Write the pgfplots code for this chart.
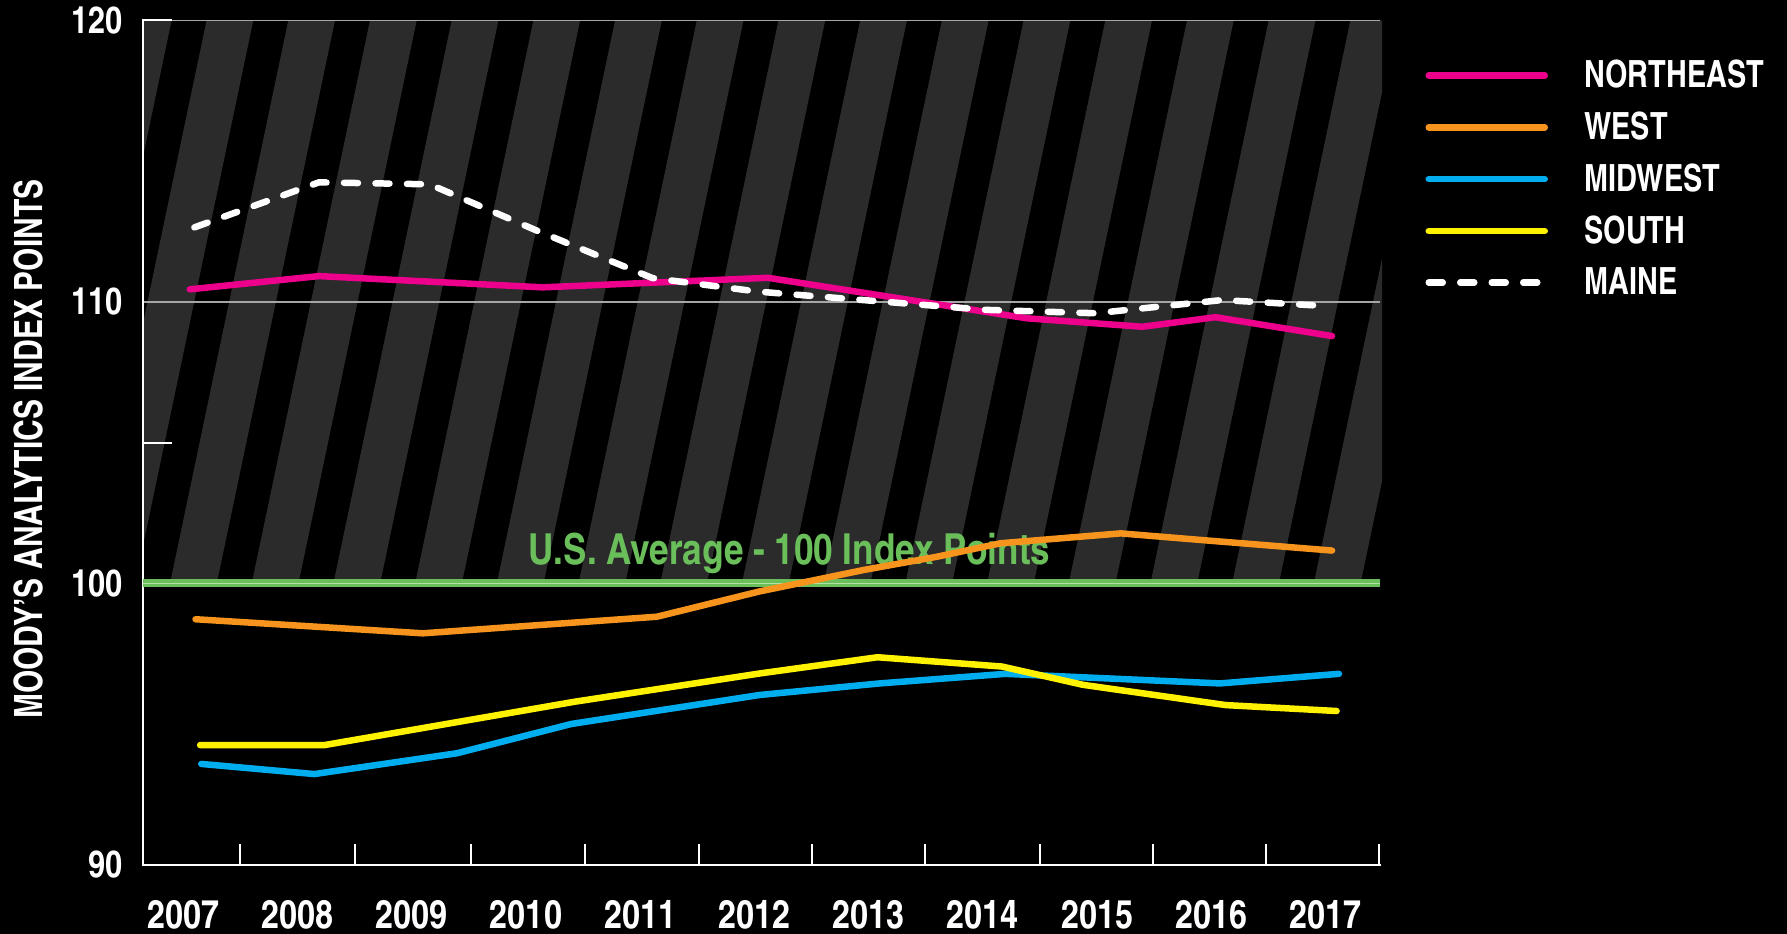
\documentclass[border=0pt]{standalone}
\usepackage{pgfplots}
\pgfplotsset{compat=1.18}
\usepackage{fontspec}
\setmainfont{texgyreheroscn-bold}[Extension=.otf]
\newfontfamily\cnx{texgyreheroscn-bold}[Extension=.otf, FakeStretch=0.94]
\definecolor{ne}{HTML}{EC008C}
\definecolor{we}{HTML}{F7941D}
\definecolor{mw}{HTML}{00AEEF}
\definecolor{so}{HTML}{FFF200}
\definecolor{stripe}{HTML}{2B2B2B}
\definecolor{avg}{HTML}{6ABF5B}
\definecolor{avglight}{HTML}{B4E2A4}
\definecolor{gridc}{HTML}{A6A6A6}
\begin{document}
\begin{tikzpicture}
\path[use as bounding box, fill=black] (-57.2pt,-27.6pt) rectangle (657.6pt,346pt);
\begin{scope}
\clip (0pt,112.6pt) rectangle (495.6pt,337.8pt);
\foreach \k in {0,...,18}{
  \fill[stripe] ({(\k-2)*32.68pt+10.8pt},112.6pt) -- ++(18.7pt,0pt) -- ++(47.3pt,225.2pt) -- ++(-18.7pt,0pt) -- cycle;
}
\end{scope}
\begin{axis}[
  at={(0pt,0pt)}, anchor=south west,
  scale only axis, width=494.8pt, height=337.8pt,
  xmin=-0.41, xmax=10.42, ymin=90, ymax=120,
  axis lines*=left,
  axis line style={white, line width=0.8pt, line cap=rect},
  tick align=inside,
  /pgf/number format/assume math mode=true,
  major tick style={draw=none},
  minor tick style={draw=white, line width=0.8pt},
  xtick={0,1,2,3,4,5,6,7,8,9,10},
  xticklabels={2007,2008,2009,2010,2011,2012,2013,2014,2015,2016,2017},
  minor xtick={0.44,1.45,2.46,3.46,4.46,5.45,6.44,7.44,8.43,9.42,10.41},
  minor tick length=8.4pt,
  major tick length=11.6pt,
  xticklabel style={anchor=north, inner sep=0pt, yshift=-13.9pt, xshift=-2.6pt, text=white, font=\fontsize{15.8}{18}\selectfont},
  ytick={90,100,110,120},
  yticklabels={90,100,110,120},
  yticklabel style={anchor=east, inner sep=0pt, xshift=-8pt, text=white, font=\fontsize{15}{18}\selectfont},
  extra y ticks={105,120},
  extra y tick labels={},
  extra y tick style={grid=none, major tick style={draw=white, line width=0.8pt}},
  ymajorgrids, grid style={gridc, line width=0.5pt},
  ylabel={MOODY’S ANALYTICS INDEX POINTS},
  ylabel style={at={(axis description cs:-0.0922,0.4926)}, anchor=center, text=white, inner sep=0pt, font=\cnx\fontsize{15.6}{18}\selectfont},
  legend style={at={(1,1)}, anchor=north west, xshift=18.2pt, yshift=-15.7pt,
    inner sep=0pt, outer sep=0pt, draw=none, fill=none, text=white,
    font=\cnx\fontsize{15}{18}\selectfont, row sep=8.2pt, column sep=14.5pt,
    nodes={inner sep=0pt}},
  legend cell align=left,
  legend image code/.code={\draw[#1] (0pt,0pt) -- (46.4pt,0pt);},
  every axis plot/.append style={line width=2.6pt, line cap=round, line join=round},
]
\addplot[forget plot, avg, line width=3.2pt, line cap=butt] coordinates {(-0.41,100) (10.42,100)};
\addplot[forget plot, avglight, line width=0.6pt, line cap=butt] coordinates {(-0.41,100) (10.42,100)};
\node[text=avg, font=\fontsize{17.1}{20}\selectfont, anchor=base, inner sep=0pt] at (axis cs:5.25,100.66) {U.S. Average - 100 Index Points};

\addplot[ne] coordinates {(0,110.45) (1.13,110.92) (3.09,110.52) (5.06,110.86) (7.33,109.42) (8.34,109.12) (8.98,109.46) (10,108.79)};
\addlegendentry{NORTHEAST}
\addplot[we] coordinates {(0.05,98.73) (2.04,98.23) (4.09,98.82) (4.99,99.72) (5.9,100.48) (6.54,100.95) (7.1,101.43) (8.15,101.78) (8.93,101.52) (10.0,101.17)};
\addlegendentry{WEST}
\addplot[mw] coordinates {(0.1,93.59) (1.09,93.23) (2.34,93.97) (3.34,95.01) (4.99,96.04) (6.04,96.45) (7.14,96.79) (9.02,96.45) (10.06,96.79)};
\addlegendentry{MIDWEST}
\addplot[so] coordinates {(0.09,94.26) (1.18,94.26) (3.37,95.8) (5.0,96.81) (6.02,97.38) (7.11,97.05) (7.82,96.4) (9.07,95.68) (10.04,95.47)};
\addlegendentry{SOUTH}
\addplot[white, dash pattern=on 5.6pt off 7pt] coordinates {(0.04,112.65) (1.13,114.25) (2.1,114.18) (3.03,112.55) (4.05,110.85) (4.97,110.37) (5.89,110.07) (6.97,109.72) (7.93,109.6) (9.04,110.07) (9.93,109.86)};
\addlegendentry{MAINE}
\end{axis}
\end{tikzpicture}
\end{document}
